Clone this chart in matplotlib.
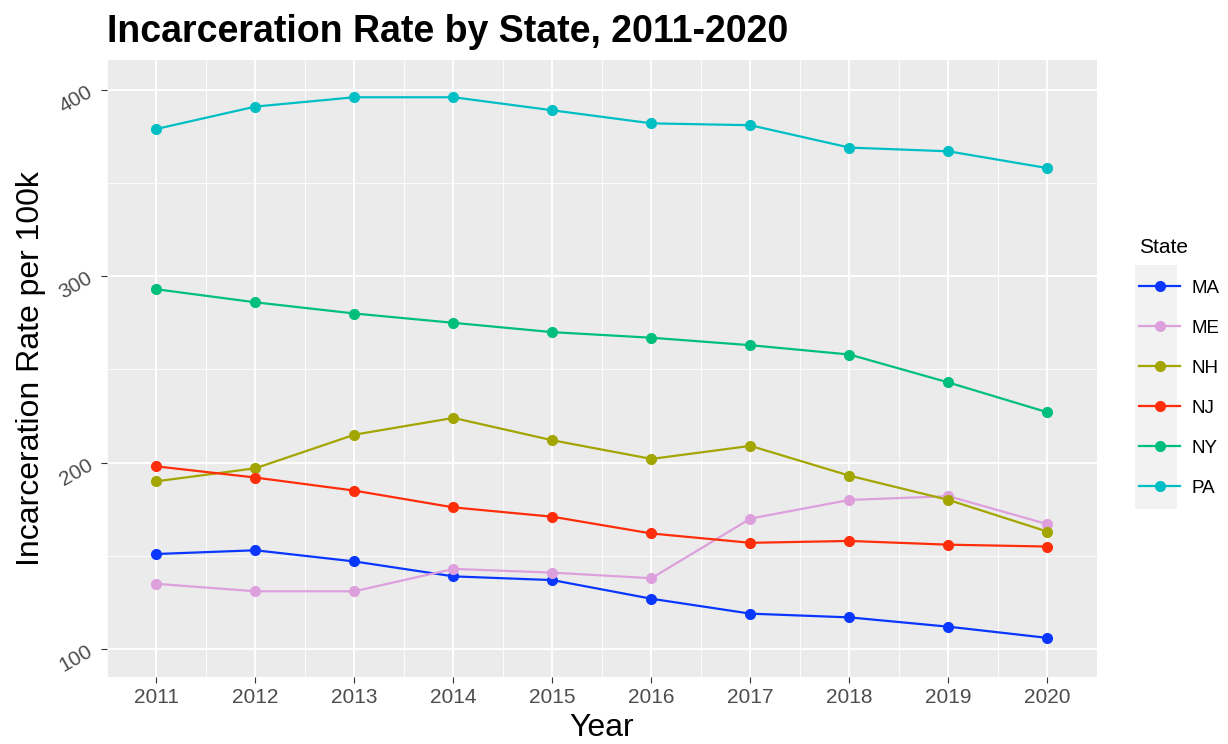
import matplotlib.pyplot as plt
import matplotlib.patches as patches
import numpy as np

years = [2011, 2012, 2013, 2014, 2015, 2016, 2017, 2018, 2019, 2020]
states = ['MA', 'ME', 'NH', 'NJ', 'NY', 'PA']
MA = [151, 153, 147, 139, 137, 127, 119, 117, 112, 106]
ME = [135, 131, 131, 143, 141, 138, 170, 180, 182, 167]
NH = [190, 197, 215, 224, 212, 202, 209, 193, 180, 163]
NJ = [198, 192, 185, 176, 171, 162, 157, 158, 156, 155]
NY = [293, 286, 280, 275, 270, 267, 263, 258, 243, 227]
PA = [379, 391, 396, 396, 389, 382, 381, 369, 367, 358]
colors = ['#0A37FF', '#DDA0DD', '#A3A500', '#FF2D0A', '#00BF7D', '#00BFC4']

plt.rcParams['font.family'] = ['Liberation Sans', 'DejaVu Sans']

fig = plt.figure(figsize=(12.28, 7.44), dpi=100)
ax = fig.add_axes([0.0871, 0.0900, 0.8062, 0.8294])
ax.set_facecolor('#EBEBEB')

for s, vals, c in zip(states, [MA, ME, NH, NJ, NY, PA], colors):
    ax.plot(years, vals, color=c, lw=1.6, marker='o', ms=7, label=s, zorder=3)

ax.set_xlim(2010.54, 2020.46)
ax.set_ylim(85, 416)
ax.set_xticks(years)
ax.set_xticks(np.arange(2010.5, 2020.6, 1), minor=True)
ax.set_yticks([100, 200, 300, 400])
ax.set_yticks([150, 250, 350], minor=True)
ax.grid(which='major', color='white', lw=1.4)
ax.grid(which='minor', color='white', lw=0.6)
ax.set_axisbelow(True)
for sp in ax.spines.values():
    sp.set_visible(False)
ax.tick_params(which='major', length=4, color='#333333', labelsize=15, labelcolor='#4D4D4D', pad=4)
ax.tick_params(which='minor', length=0)
plt.setp(ax.get_yticklabels(), rotation=30)

ax.set_xlabel('Year', fontsize=23, labelpad=4)
ax.set_ylabel('Incarceration Rate per 100k', fontsize=23, labelpad=7)
fig.text(0.0871, 0.957, 'Incarceration Rate by State, 2011-2020', fontsize=27,
         fontweight='bold', ha='left', va='center')

# legend key background
fig.patches.append(patches.Rectangle((1135 / 1228, 1 - 509 / 744), 42 / 1228, 244 / 744,
                                     transform=fig.transFigure, facecolor='#F2F2F2',
                                     edgecolor='none', zorder=0))
leg = fig.legend(loc='upper left', bbox_to_anchor=(1122 / 1228, 1 - 221 / 744), frameon=False,
                 title='State', fontsize=13.5, title_fontsize=15, handlelength=2.2,
                 labelspacing=1.22, alignment='left', handletextpad=0.6)

fig.savefig('out.png', dpi=100)
